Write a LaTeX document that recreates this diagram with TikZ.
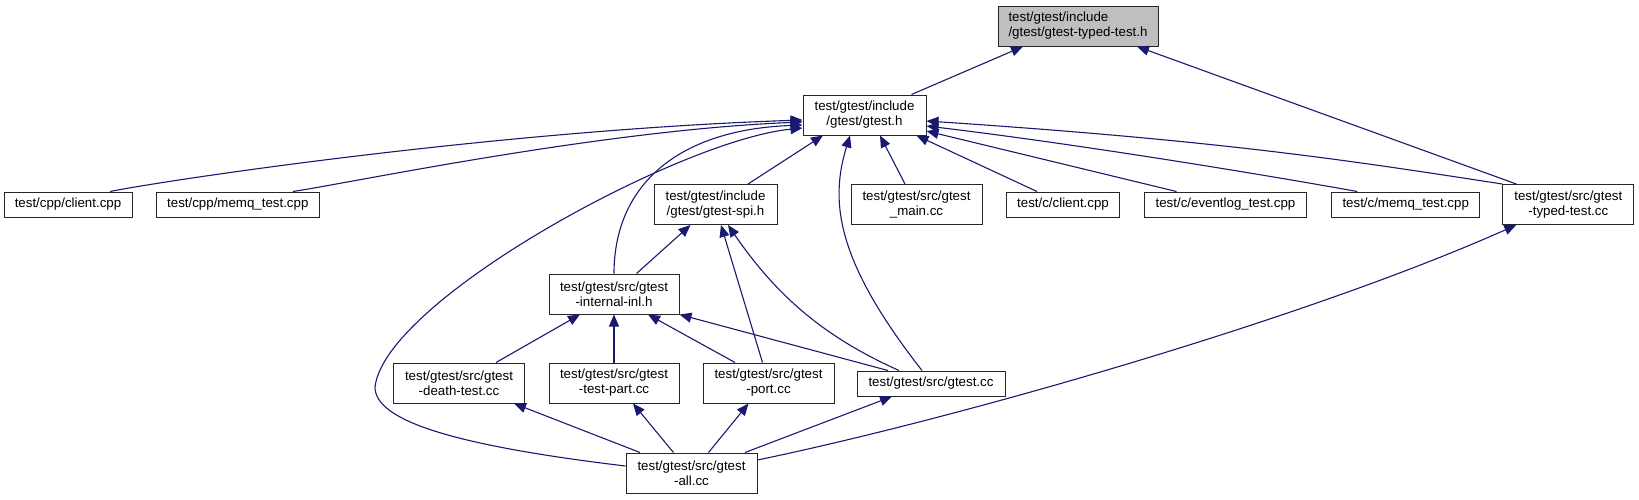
\documentclass[tikz,border=0pt]{standalone}
\usepackage{fontspec}
\setmainfont{Liberation Sans}
\usepackage{xcolor}
\usepackage{tikz}
\usetikzlibrary{arrows.meta}
\definecolor{edgeblue}{RGB}{25,25,112}
\definecolor{rootgray}{RGB}{191,191,191}

\begin{document}
\begin{tikzpicture}[x=1pt, y=-1pt,
    file/.style={draw=black!85, line width=1pt, fill=white, inner sep=0pt, align=center,
                 font=\fontsize{13.3}{15}\selectfont},
    onebox/.style={file, minimum height=25pt},
    twobox/.style={file, minimum height=40pt},
    edge/.style={draw=edgeblue, line width=1.1pt, {Triangle[length=12pt, width=10pt]}-}]
    \useasboundingbox (0,0) rectangle (1639,499);

    % Files
    \node[twobox, fill=rootgray, align=left, minimum width=160pt] (typedh) at (1078,26) {test/gtest/include\\/gtest/gtest-typed-test.h};
    \node[twobox, minimum width=123pt] (gtesth) at (864.5,115) {test/gtest/include\\/gtest/gtest.h};

    \node[onebox, minimum width=128pt] (cppclient) at (68,204.5) {test/cpp/client.cpp};
    \node[onebox, minimum width=163pt] (cppmemq) at (237.8,204.5) {test/cpp/memq\_test.cpp};
    \node[twobox, minimum width=123pt] (spih) at (715.5,204.5) {test/gtest/include\\/gtest/gtest-spi.h};
    \node[twobox, minimum width=131pt] (mainc) at (916.5,204.5) {test/gtest/src/gtest\\\_main.cc};
    \node[onebox, minimum width=113pt] (cclient) at (1063,204.5) {test/c/client.cpp};
    \node[onebox, minimum width=162pt] (eventlog) at (1225.5,204.5) {test/c/eventlog\_test.cpp};
    \node[onebox, minimum width=148pt] (cmemq) at (1405.7,204.5) {test/c/memq\_test.cpp};
    \node[twobox, minimum width=131pt] (typedcc) at (1568.3,204.5) {test/gtest/src/gtest\\-typed-test.cc};

    \node[twobox, minimum width=130pt] (inlh) at (614,294) {test/gtest/src/gtest\\-internal-inl.h};

    \node[twobox, minimum width=131pt] (death) at (459,383) {test/gtest/src/gtest\\-death-test.cc};
    \node[twobox, minimum width=130pt] (testpart) at (614,383) {test/gtest/src/gtest\\-test-part.cc};
    \node[twobox, minimum width=131pt] (port) at (768.5,383) {test/gtest/src/gtest\\-port.cc};
    \node[onebox, minimum width=148pt] (gtestcc) at (931,383.5) {test/gtest/src/gtest.cc};

    \node[twobox, minimum width=131pt] (allcc) at (691.5,473) {test/gtest/src/gtest\\-all.cc};

    % Edges from the root
    \draw[edge] ([xshift=-55pt]typedh.south) -- ([xshift=47pt]gtesth.north);
    \draw[edge] ([xshift=59pt]typedh.south) -- ([xshift=-52pt]typedcc.north);

    % Edges from gtest.h
    \draw[edge] ([yshift=-5pt]gtesth.west) .. controls +(-300,10) and +(60,-12) .. ([xshift=42pt]cppclient.north);
    \draw[edge] ([yshift=-7pt]gtesth.west) .. controls +(-200,8) and +(60,-9) .. ([xshift=55pt]cppmemq.north);
    \draw[edge] ([yshift=-10pt]gtesth.west) .. controls +(-130,5) and +(0,-84) .. (inlh.north);
    \draw[edge] ([yshift=-13pt]gtesth.west) .. controls (680,140) and (385,300) .. (375,387)
        .. controls (375,420) and (450,445) .. ([yshift=7pt]allcc.west);
    \draw[edge] ([xshift=-41.5pt]gtesth.south) -- ([xshift=32.5pt]spih.north);
    \draw[edge] ([xshift=-14.5pt]gtesth.south) .. controls +(-20,65) and +(-87,-111) .. ([xshift=-9pt]gtestcc.north);
    \draw[edge] ([xshift=15.5pt]gtesth.south) -- ([xshift=-11.5pt]mainc.north);
    \draw[edge] ([xshift=52pt]gtesth.south) -- ([xshift=-26pt]cclient.north);
    \draw[edge] ([yshift=-16pt]gtesth.east) -- ([xshift=-49pt]eventlog.north);
    \draw[edge] ([yshift=-11pt]gtesth.east) .. controls +(150,18) and +(-100,-18) .. ([xshift=-48.5pt]cmemq.north);
    \draw[edge] ([yshift=-6pt]gtesth.east) .. controls +(300,20) and +(-150,-23) .. (typedcc.north west);

    % Edges from gtest-spi.h
    \draw[edge] ([xshift=-25pt]spih.south) -- ([xshift=22.5pt]inlh.north);
    \draw[edge] ([xshift=5.5pt]spih.south) -- ([xshift=-6pt]port.north);
    \draw[edge] ([xshift=12.5pt]spih.south) .. controls +(52,76) and +(-69,-31) .. ([xshift=-32pt]gtestcc.north);

    % Edges from gtest-internal-inl.h
    \draw[edge] ([xshift=-34pt]inlh.south) -- ([xshift=37pt]death.north);
    \draw[edge] (inlh.south) -- (testpart.north);
    \draw[edge] ([xshift=34pt]inlh.south) -- ([xshift=-33.5pt]port.north);
    \draw[edge] (inlh.south east) -- ([xshift=-43pt]gtestcc.north);

    % Edges down to gtest-all.cc
    \draw[edge] ([xshift=55pt]death.south) -- ([xshift=-51.5pt]allcc.north);
    \draw[edge] ([xshift=19pt]testpart.south) -- ([xshift=-18pt]allcc.north);
    \draw[edge] ([xshift=-20pt]port.south) -- ([xshift=17pt]allcc.north);
    \draw[edge] ([xshift=-39pt]gtestcc.south) -- ([xshift=53.5pt]allcc.north);
    \draw[edge] ([xshift=-52pt]typedcc.south) .. controls +(-216,96) and +(193,-40) .. ([yshift=13pt]allcc.east);
\end{tikzpicture}
\end{document}
